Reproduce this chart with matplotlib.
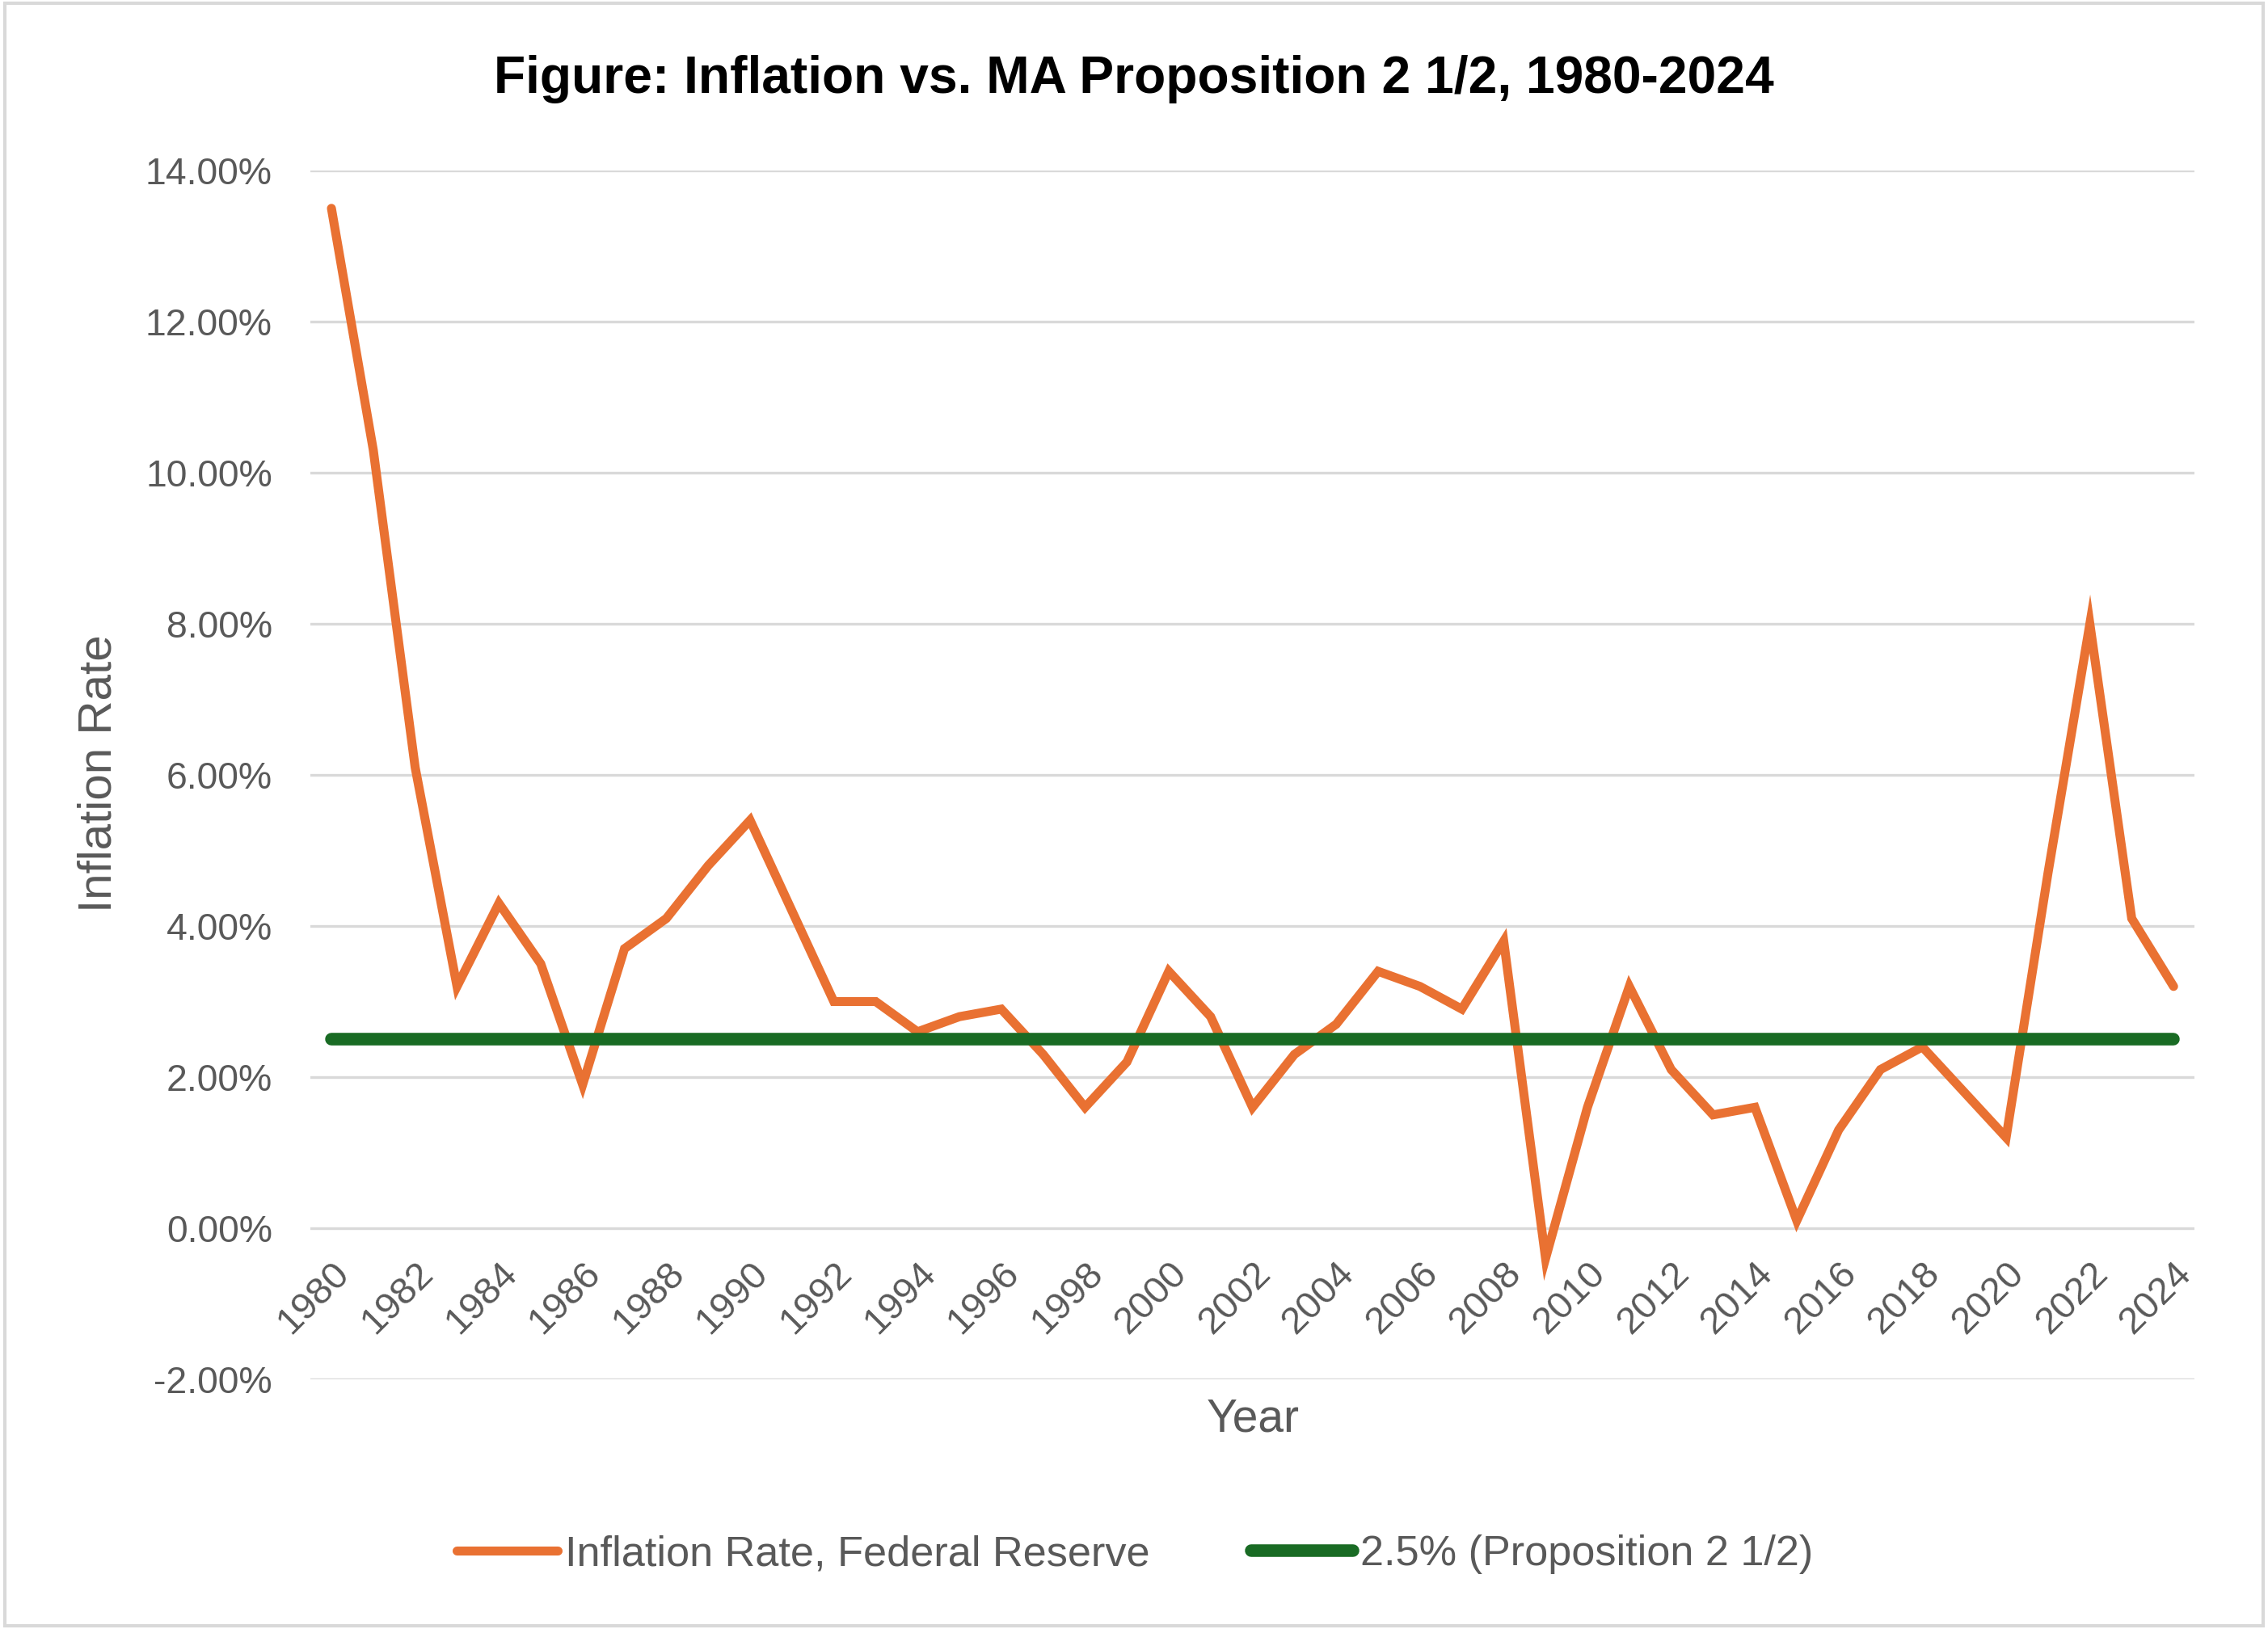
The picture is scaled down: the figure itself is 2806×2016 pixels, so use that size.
import matplotlib
matplotlib.use("Agg")
import matplotlib.pyplot as plt
from matplotlib.ticker import FuncFormatter, MultipleLocator
from matplotlib.patches import Rectangle

years = list(range(1980, 2025))
inflation = [13.5, 10.3, 6.1, 3.2, 4.3, 3.5, 1.9, 3.7, 4.1, 4.8,
             5.4, 4.2, 3.0, 3.0, 2.6, 2.8, 2.9, 2.3, 1.6, 2.2,
             3.4, 2.8, 1.6, 2.3, 2.7, 3.4, 3.2, 2.9, 3.8, -0.4,
             1.6, 3.2, 2.1, 1.5, 1.6, 0.1, 1.3, 2.1, 2.4, 1.8,
             1.2, 4.7, 8.0, 4.1, 3.2]
target = [2.5] * len(years)
tick_years = list(range(1980, 2025, 2))

title = "Figure: Inflation vs. MA Proposition 2 1/2, 1980-2024"
series_names = ["Inflation Rate, Federal Reserve", "2.5% (Proposition 2 1/2)"]

ORANGE = "#E97132"
GREEN = "#196B24"
GRAY_TXT = "#595959"
GRID = "#D9D9D9"

plt.rcParams['font.family'] = ['Liberation Sans', 'DejaVu Sans']

fig = plt.figure(figsize=(14.03, 10.08), dpi=200)
ax = fig.add_axes([0.1369, 0.1533, 0.9676 - 0.1369, 0.8953 - 0.1533])

ax.plot(years, inflation, color=ORANGE, lw=4.0, solid_capstyle='round',
        solid_joinstyle='miter', label=series_names[0], zorder=3)
ax.plot(years, target, color=GREEN, lw=5.6, solid_capstyle='round',
        label=series_names[1], zorder=4)

ax.set_xlim(1979.5, 2024.5)
ax.set_ylim(-2, 14)
ax.yaxis.set_major_locator(MultipleLocator(2))
ax.yaxis.set_major_formatter(FuncFormatter(lambda v, p: f"{v:.2f}%"))
ax.grid(axis='y', color=GRID, lw=1.2, zorder=0)
ax.set_axisbelow(True)

for s in ['top', 'right', 'left']:
    ax.spines[s].set_visible(False)
ax.spines['bottom'].set_position(('data', 0))
ax.spines['bottom'].set_visible(False)

ax.set_xticks(tick_years)
ax.set_xticklabels([str(y) for y in tick_years], rotation=45, ha='right',
                   rotation_mode='anchor')
ax.tick_params(axis='x', length=0, pad=12, labelsize=17, labelcolor=GRAY_TXT)
ax.tick_params(axis='y', length=0, pad=17, labelsize=16.7, labelcolor=GRAY_TXT)

fig.text(122 / 2806, 1 - 957 / 2016, "Inflation Rate", rotation=90,
         ha='center', va='center', fontsize=21, color=GRAY_TXT)
fig.text(1550 / 2806, 1 - 1757 / 2016, "Year", ha='center', va='center',
         fontsize=20.5, color=GRAY_TXT)
fig.text(1403 / 2806, 1 - 98 / 2016, title, ha='center', va='center',
         fontsize=23.1, fontweight='bold', color='black')

leg = fig.legend(loc='center', bbox_to_anchor=(1404 / 2806, 1 - 1924 / 2016),
                 ncol=2, frameon=False, fontsize=18.8, handlelength=2.4,
                 handletextpad=0.18, columnspacing=2.4)
for t in leg.get_texts():
    t.set_color(GRAY_TXT)

fig.patches.append(Rectangle((0.002, 0.002), 0.996, 0.996, transform=fig.transFigure,
                             fill=False, edgecolor=GRID, lw=1.5))

fig.savefig("out.png", dpi=200, facecolor='white')
